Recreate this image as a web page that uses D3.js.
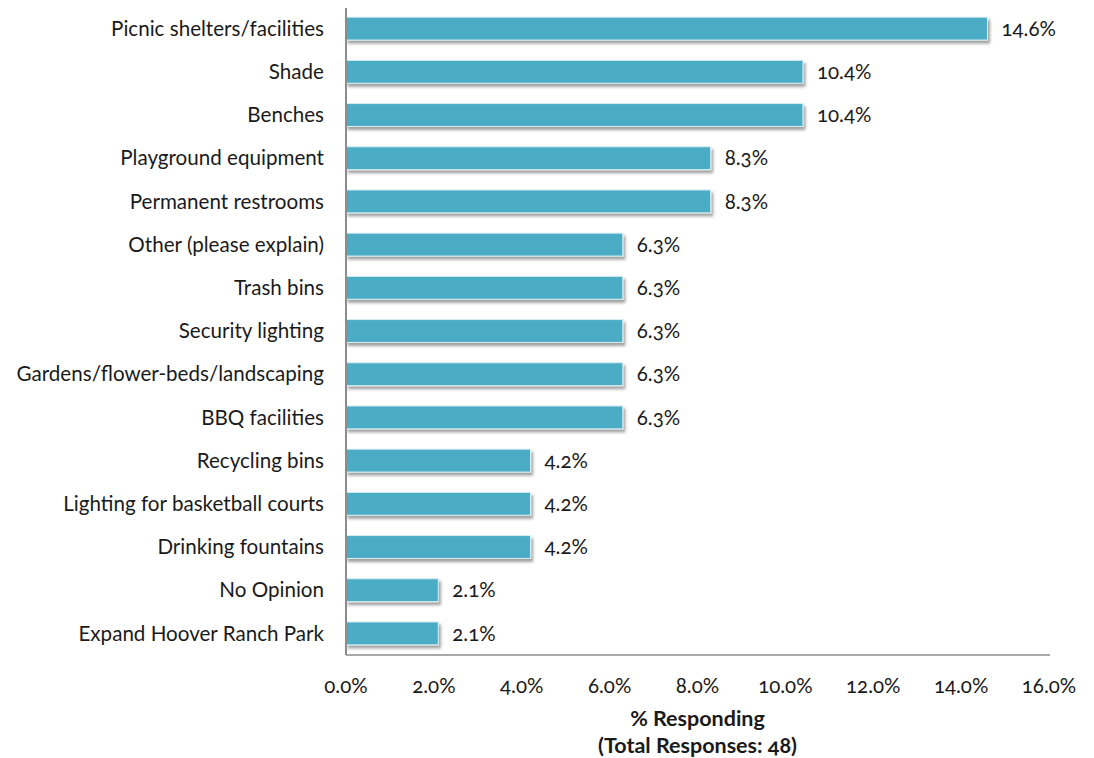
<!DOCTYPE html>
<html>
<head>
<meta charset="utf-8">
<script src="https://cdn.jsdelivr.net/npm/d3@7"></script>
<style>
  html, body { margin: 0; padding: 0; background: #fff; }
  svg { display: block; font-family: Lato, "Open Sans", sans-serif; font-variant-numeric: oldstyle-nums; }
</style>
</head>
<body>
<svg id="chart" width="1094" height="758"></svg>
<script>
// Survey: desired park amenities, share of responses
const categories = [
  "Picnic shelters/facilities",
  "Shade",
  "Benches",
  "Playground equipment",
  "Permanent restrooms",
  "Other (please explain)",
  "Trash bins",
  "Security lighting",
  "Gardens/flower-beds/landscaping",
  "BBQ facilities",
  "Recycling bins",
  "Lighting for basketball courts",
  "Drinking fountains",
  "No Opinion",
  "Expand Hoover Ranch Park"
];
const values = [14.6, 10.4, 10.4, 8.3, 8.3, 6.3, 6.3, 6.3, 6.3, 6.3, 4.2, 4.2, 4.2, 2.1, 2.1];
const xTicks = [0, 2, 4, 6, 8, 10, 12, 14, 16];
const axisTitle = ["% Responding", "(Total Responses: 48)"];

const svg = d3.select("#chart");
const plotLeft = 346, plotRight = 1049, plotTop = 7, plotBottom = 655;

const x = d3.scaleLinear().domain([0, 16]).range([plotLeft, plotRight]);
const y = d3.scaleBand().domain(categories).range([plotTop, plotBottom]).paddingInner(0.47).paddingOuter(0.235);

const defs = svg.append("defs");
const f = defs.append("filter").attr("id", "shadow")
  .attr("x", "-5%").attr("y", "-30%").attr("width", "115%").attr("height", "180%");
f.append("feDropShadow").attr("dx", 2).attr("dy", 3).attr("stdDeviation", 1.6)
  .attr("flood-color", "#000").attr("flood-opacity", 0.38);

// Bars
svg.append("g").selectAll("rect").data(categories).join("rect")
  .attr("x", x(0))
  .attr("y", d => y(d))
  .attr("width", (d, i) => x(values[i]) - x(0))
  .attr("height", y.bandwidth())
  .attr("fill", "#4BACC6")
  .attr("stroke", "#d9eef4")
  .attr("stroke-width", 1)
  .attr("filter", "url(#shadow)");

// Value labels
svg.append("g").selectAll("text").data(categories).join("text")
  .attr("x", (d, i) => x(values[i]) + 14)
  .attr("y", d => y(d) + y.bandwidth() / 2)
  .attr("dy", "0.35em")
  .attr("font-size", 20.5)
  .attr("fill", "#1a1a1a")
  .text((d, i) => values[i].toFixed(1) + "%");

// Category labels
svg.append("g").selectAll("text").data(categories).join("text")
  .attr("x", 324)
  .attr("y", d => y(d) + y.bandwidth() / 2)
  .attr("dy", "0.35em")
  .attr("text-anchor", "end")
  .attr("font-size", 20.6)
  .attr("fill", "#1a1a1a")
  .text(d => d);

// Axis lines
svg.append("line").attr("x1", plotLeft).attr("x2", plotLeft).attr("y1", 8).attr("y2", plotBottom)
  .attr("stroke", "#8c8c8c").attr("stroke-width", 2);
svg.append("line").attr("x1", plotLeft).attr("x2", plotRight + 1).attr("y1", plotBottom).attr("y2", plotBottom)
  .attr("stroke", "#8c8c8c").attr("stroke-width", 1.5);

// X tick labels
svg.append("g").selectAll("text").data(xTicks).join("text")
  .attr("x", d => x(d))
  .attr("y", 686)
  .attr("dy", "0.35em")
  .attr("text-anchor", "middle")
  .attr("font-size", 20.5)
  .attr("fill", "#1a1a1a")
  .text(d => d.toFixed(1) + "%");

// Axis title
svg.append("g").selectAll("text").data(axisTitle).join("text")
  .attr("x", (plotLeft + plotRight) / 2)
  .attr("y", (d, i) => 718 + i * 27)
  .attr("dy", "0.35em")
  .attr("text-anchor", "middle")
  .attr("font-size", 21.5)
  .attr("font-weight", "bold")
  .attr("fill", "#1a1a1a")
  .text(d => d);
</script>
</body>
</html>
